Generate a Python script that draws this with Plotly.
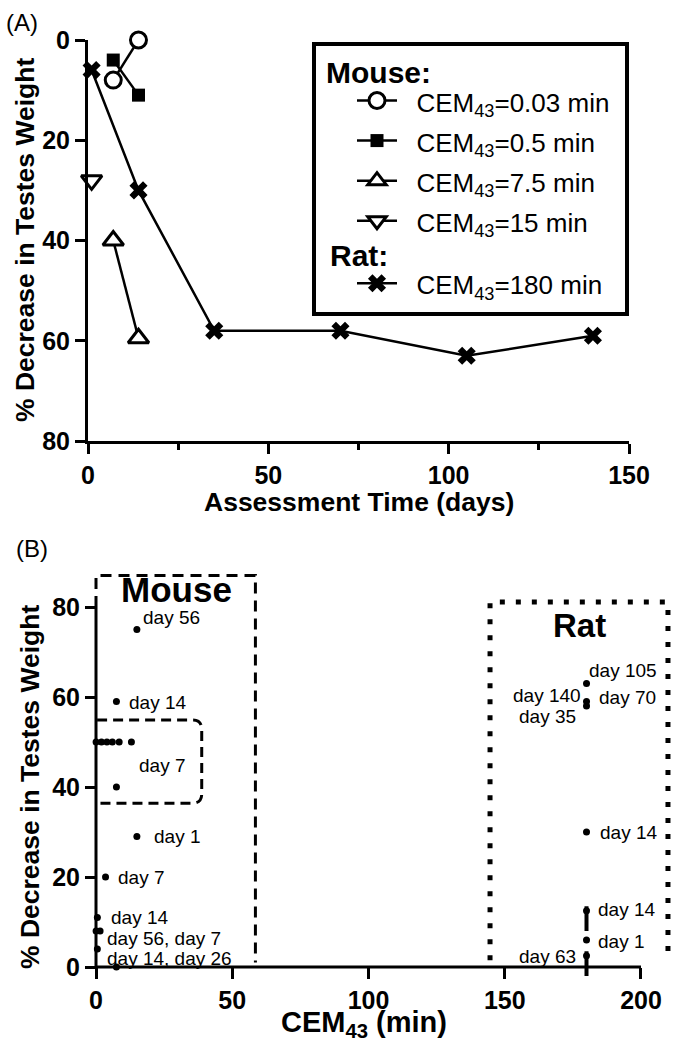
import plotly.graph_objects as go

# ---------------- Panel A data ----------------
a_days_003 = [7, 14]
a_dec_003 = [8, 0]
a_days_05 = [7, 14]
a_dec_05 = [4, 11]
a_days_75 = [7, 14]
a_dec_75 = [40, 59.5]
a_days_15 = [1]
a_dec_15 = [28]
a_days_180 = [1, 14, 35, 70, 105, 140]
a_dec_180 = [6, 30, 58, 58, 63, 59]

a_xticks = [0, 50, 100, 150]
a_xminor = [25, 75, 125]
a_yticks = [0, 20, 40, 60, 80]

# ---------------- Panel B data ----------------
mouse_cem = [15, 7.5, 0.03, 2, 4, 6, 8.5, 13, 7.5, 15, 3.5, 0.5, 0.03, 1.5, 0.5, 7.5]
mouse_dec = [75, 59, 50, 50, 50, 50, 50, 50, 40, 29, 20, 11, 8, 8, 4, 0]
rat_cem = [180, 180, 180, 180, 180]
rat_dec = [63, 59, 58, 30, 6]
rat_err_cem = [180, 180]
rat_err_dec = [12.5, 2.5]
rat_err_plus = [1, 1]
rat_err_minus = [4.5, 4.5]

b_labels = ["day 56", "day 14", "day 7", "day 1", "day 7", "day 14",
            "day 56, day 7", "day 14, day 26",
            "day 105", "day 140", "day 70", "day 35", "day 14", "day 14", "day 1", "day 63"]
b_label_x = [16.5, 11.4, 15.0, 20.6, 7.3, 4.8, 3.3, 3.3,
             180.2, 178.7, 183.9, 176.9, 184.2, 183.5, 183.5, 176.9]
b_label_y = [77.6, 58.7, 44.7, 28.9, 20, 10.9, 6.4, 2.0,
             66, 60.4, 59.8, 55.6, 30, 12.7, 5.6, 2.4]
b_label_anchor = ["left"] * 8 + ["left", "right", "left", "right", "left", "left", "left", "right"]

b_xticks = [0, 50, 100, 150, 200]
b_yticks = [0, 20, 40, 60, 80]

FONT = "Liberation Sans, Arial, sans-serif"
BLACK = "black"
NB = "\u00a0\u00a0"

fig = go.Figure()

def add_a(x, y, name, symbol, fill, size, lw, group, gtitle=False):
    tr = dict(
        x=x, y=y, name='<span style="font-size:26px">' + NB + name + "</span>",
        mode="lines+markers", xaxis="x", yaxis="y",
        line=dict(color=BLACK, width=2.5),
        marker=dict(symbol=symbol, size=size, color=fill,
                    line=dict(color=BLACK, width=lw)),
        cliponaxis=False, legendgroup=group,
    )
    if gtitle:
        # blank row reserving space for the group heading (heading drawn as annotation)
        tr["legendgrouptitle"] = dict(text="\u00a0", font=dict(family=FONT, size=15, color=BLACK))
    fig.add_trace(go.Scatter(**tr))

add_a(a_days_003, a_dec_003, "CEM<sub>43</sub>=0.03 min", "circle", "white", 16, 3, "mouse", True)
add_a(a_days_05, a_dec_05, "CEM<sub>43</sub>=0.5 min", "square", BLACK, 13, 0, "mouse")
add_a(a_days_75, a_dec_75, "CEM<sub>43</sub>=7.5 min", "triangle-up", "white", 18, 3, "mouse")
add_a(a_days_15, a_dec_15, "CEM<sub>43</sub>=15 min", "triangle-down", "white", 18, 3, "mouse")
add_a(a_days_180, a_dec_180, "CEM<sub>43</sub>=180 min", "x", BLACK, 16, 0, "rat", True)

# Panel B
fig.add_trace(go.Scatter(x=mouse_cem, y=mouse_dec, mode="markers", xaxis="x2", yaxis="y2",
                         marker=dict(color=BLACK, size=7), showlegend=False, cliponaxis=False))
fig.add_trace(go.Scatter(x=rat_cem, y=rat_dec, mode="markers", xaxis="x2", yaxis="y2",
                         marker=dict(color=BLACK, size=7), showlegend=False, cliponaxis=False))
fig.add_trace(go.Scatter(x=rat_err_cem, y=rat_err_dec, mode="markers", xaxis="x2", yaxis="y2",
                         marker=dict(color=BLACK, size=7),
                         error_y=dict(type="data", symmetric=False, array=rat_err_plus,
                                      arrayminus=rat_err_minus, thickness=4, width=0, color=BLACK),
                         showlegend=False, cliponaxis=False))

tickfont = dict(family=FONT, size=25, weight="bold", color=BLACK)
ax_common = dict(showgrid=False, zeroline=False, ticks="outside", tickwidth=3,
                 tickcolor=BLACK, tickfont=tickfont, automargin=False)

fig.update_layout(
    template="none",
    width=675, height=1050,
    margin=dict(l=0, r=0, t=0, b=0, pad=0, autoexpand=False),
    paper_bgcolor="white", plot_bgcolor="white",
    showlegend=True,
    legend=dict(x=352 / 675, y=1 - 53 / 1050, xanchor="left", yanchor="top",
                bgcolor="rgba(0,0,0,0)", borderwidth=0, itemwidth=40,
                font=dict(family=FONT, size=28.5, color=BLACK),
                tracegroupgap=0, traceorder="grouped"),
    xaxis=dict(domain=[88 / 675, 629 / 675], range=[0, 150], anchor="y",
               showline=True, linewidth=3, linecolor=BLACK, ticklen=10,
               tickvals=a_xticks,
               minor=dict(tickvals=a_xminor, ticks="outside", ticklen=6, tickwidth=3, tickcolor=BLACK),
               **ax_common),
    yaxis=dict(domain=[1 - 441 / 1050, 1 - 40 / 1050], range=[80, 0], anchor="x",
               showline=True, linewidth=3, linecolor=BLACK, ticklen=10,
               tickvals=a_yticks, **ax_common),
    xaxis2=dict(domain=[87.825 / 675, 673.7 / 675], range=[-3, 212], anchor="free",
                position=1 - 967 / 1050, showline=False, ticklen=11,
                tickvals=b_xticks, **ax_common),
    yaxis2=dict(domain=[1 - 980.5 / 1050, 1 - 566.5 / 1050], range=[-3, 89], anchor="free",
                position=96 / 675, showline=False, ticklen=11,
                tickvals=b_yticks, **ax_common),
)

shapes = [
    # legend box
    dict(type="rect", xref="paper", yref="paper", x0=314 / 675, x1=627 / 675,
         y0=1 - 314 / 1050, y1=1 - 44 / 1050, line=dict(color=BLACK, width=4)),
    # panel B axis lines
    dict(type="line", xref="x2", yref="y2", x0=0, x1=200, y0=0, y1=0, line=dict(color=BLACK, width=3)),
    dict(type="line", xref="x2", yref="y2", x0=0, x1=0, y0=0, y1=80, line=dict(color=BLACK, width=3)),
    # mouse box
    dict(type="path", xref="x2", yref="y2", path="M 0,80 L 0,87 L 58.5,87 L 58.5,1",
         line=dict(color=BLACK, width=3, dash="11px,7px")),
    # inner day-7 box
    dict(type="path", xref="x2", yref="y2",
         path="M 0.4,54.9 L 35.5,54.9 Q 38.8,54.9 38.8,52.8 L 38.8,38.5 Q 38.8,36.4 35.5,36.4 L 0.4,36.4",
         line=dict(color=BLACK, width=3, dash="10px,6px")),
    # rat box
    dict(type="path", xref="x2", yref="y2", path="M 144.6,1.5 L 144.6,81.1 L 209.9,81.1 L 209.9,1.5",
         line=dict(color=BLACK, width=5, dash="5px,11px")),
]
fig.update_layout(shapes=shapes)

ann = []
title_font = dict(family=FONT, size=26.5, weight="bold", color=BLACK)

def pann(text, px, py, font, angle=0, xa="center"):
    ann.append(dict(text=text, x=px / 675, y=1 - py / 1050, xref="paper", yref="paper",
                    xanchor=xa, yanchor="middle", showarrow=False, textangle=angle, font=font))

pann("(A)", 22, 23, dict(family=FONT, size=24, color=BLACK))
pann("(B)", 32, 548, dict(family=FONT, size=24, color=BLACK))
pann("Assessment Time (days)", 359, 502, title_font)
pann("% Decrease in Testes Weight", 25, 240, title_font, angle=-90)
pann("CEM<sub>43</sub> (min)", 364, 1024, dict(family=FONT, size=29, weight="bold", color=BLACK))
pann("% Decrease in Testes Weight", 30, 787, title_font, angle=-90)
pann("Mouse:", 324, 72, dict(family=FONT, size=30, weight="bold", color=BLACK), xa="left")
pann("Rat:", 328, 255, dict(family=FONT, size=30, weight="bold", color=BLACK), xa="left")

ann.append(dict(text="Mouse", x=29.4, y=84, xref="x2", yref="y2", showarrow=False,
                xanchor="center", yanchor="middle",
                font=dict(family=FONT, size=35, weight="bold", color=BLACK)))
ann.append(dict(text="Rat", x=177.4, y=76, xref="x2", yref="y2", showarrow=False,
                xanchor="center", yanchor="middle",
                font=dict(family=FONT, size=33, weight="bold", color=BLACK)))
for t, x, y, a in zip(b_labels, b_label_x, b_label_y, b_label_anchor):
    ann.append(dict(text=t, x=x, y=y, xref="x2", yref="y2", xanchor=a, yanchor="middle",
                    showarrow=False, font=dict(family=FONT, size=19, color=BLACK)))
fig.update_layout(annotations=ann)

fig.write_html("out.html", config={"displayModeBar": False},
               post_script="document.body.style.margin='0px';")
